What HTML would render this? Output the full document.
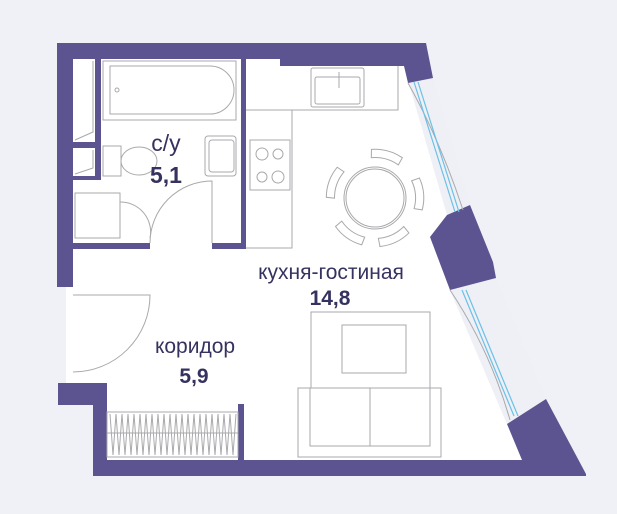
<!DOCTYPE html>
<html><head><meta charset="utf-8"><style>
html,body{margin:0;padding:0;background:#eff1f6;}
svg{display:block}
text{font-family:"Liberation Sans",sans-serif;fill:#35325f}
</style></head><body>
<svg width="617" height="514" viewBox="0 0 617 514" xmlns="http://www.w3.org/2000/svg">
<rect width="617" height="514" fill="#eff1f6"/>
<!-- floor -->
<polygon points="73,59 280,59 280,66 404,66 447,215 430,237 450,290 507,424 522,460 107,460 107,405 73,405 73,287 57,287 57,153 73,153" fill="#ffffff"/>
<polygon points="66,287 73,287 73,383 66,383" fill="#ffffff"/>
<!-- window recesses -->
<polygon points="404,66 433,78 470,205 447,215" fill="#eef0f5"/>
<polygon points="450,290 496,278 546,399 507,424" fill="#eef0f5"/>
<g fill="#5b5490">
<polygon points="58,43 426,43 433,78 408,83 404,66 280,66 280,59 73,59 73,153 57,153 57,287 73,287 73,59 58,59"/>
<rect x="57" y="43" width="16" height="244"/>
<polygon points="470,205 447,215 430,237 450,290 496,278 493,262"/>
<polygon points="546,399 586,474 586,476 93,476 93,405 58,405 58,383 107,383 107,460 522,460 507,424"/>
<rect x="241" y="59" width="5" height="190"/>
<rect x="95" y="59" width="6" height="119"/>
<rect x="73" y="142" width="22" height="6"/>
<rect x="73" y="176" width="28" height="4"/>
<rect x="73" y="243" width="77" height="6"/>
<rect x="212" y="243" width="34" height="6"/>
<rect x="238" y="404" width="6" height="56"/>
</g>
<g fill="none" stroke="#a9a9ad" stroke-width="1">
<polyline points="75,140 93,132 93,61"/>
<polyline points="75,174 93,168 93,150"/>
<rect x="103" y="61" width="133" height="59"/>
<path d="M110,66 H210 A22,22 0 0 1 210,114 H110 Z"/>
<circle cx="117" cy="90" r="2"/>
<rect x="103" y="146" width="18" height="30"/>
<ellipse cx="139" cy="161" rx="18" ry="14"/>
<rect x="205" y="136" width="31" height="40" rx="3"/>
<rect x="209" y="140" width="25" height="32" rx="3"/>
<rect x="75" y="193" width="45" height="45"/>
<path d="M120,202 A30,30 0 0 1 150,238"/>
<path d="M150,243 A62,62 0 0 1 212,181 V243"/>
<path d="M73,295 H150 A77,77 0 0 1 73,372"/>
<polyline points="246,110 398,110 398,66"/>
<polyline points="292,110 292,248 246,248"/>
<rect x="311" y="68" width="53" height="39" rx="2"/>
<rect x="315" y="77" width="45" height="27" rx="2"/>
<line x1="339" y1="72" x2="339" y2="88"/>
<rect x="250" y="140" width="40" height="50"/>
<circle cx="262" cy="154" r="6"/><circle cx="278" cy="154" r="5"/>
<circle cx="262" cy="177" r="5"/><circle cx="278" cy="177" r="6"/>
<circle cx="375" cy="198" r="31"/>
<circle cx="375" cy="198" r="29"/>
<g transform="translate(375,198)">
<path d="M-14,-38 A40,40 0 0 1 14,-38 L16,-46 A48,48 0 0 0 -16,-46 Z" transform="rotate(15)"/>
<path d="M-14,-38 A40,40 0 0 1 14,-38 L16,-46 A48,48 0 0 0 -16,-46 Z" transform="rotate(85)"/>
<path d="M-14,-38 A40,40 0 0 1 14,-38 L16,-46 A48,48 0 0 0 -16,-46 Z" transform="rotate(155)"/>
<path d="M-14,-38 A40,40 0 0 1 14,-38 L16,-46 A48,48 0 0 0 -16,-46 Z" transform="rotate(215)"/>
<path d="M-14,-38 A40,40 0 0 1 14,-38 L16,-46 A48,48 0 0 0 -16,-46 Z" transform="rotate(290)"/>
</g>
<rect x="311" y="312" width="119" height="76"/>
<rect x="342" y="325" width="64" height="48"/>
<rect x="298" y="388" width="143" height="69"/>
<polyline points="310,388 310,446 430,446 430,388"/>
<line x1="370" y1="388" x2="370" y2="446"/>
<rect x="107" y="412" width="131" height="45"/>
<line x1="107" y1="433" x2="238" y2="433"/>
<polyline points="110,414 113,455 116,414 119,455 122,414 125,455 128,414 131,455 134,414 137,455 140,414 143,455 146,414 149,455 152,414 155,455 158,414 161,455 164,414 167,455 170,414 173,455 176,414 179,455 182,414 185,455 188,414 191,455 194,414 197,455 200,414 203,455 206,414 209,455 212,414 215,455 218,414 221,455 224,414 227,455 230,414 233,455 236,414"/>
<path d="M408,83 Q440,140 463,210"/>
<path d="M450,290 Q490,350 510,420"/>
</g>
<g fill="none" stroke="#6cc0e6" stroke-width="1.2">
<line x1="414" y1="82" x2="455" y2="212"/>
<line x1="418" y1="82" x2="459" y2="212"/>
<line x1="462" y1="290" x2="514" y2="416"/>
<line x1="466" y1="290" x2="518" y2="416"/>
</g>
<text x="166" y="151" font-size="23" text-anchor="middle">с/у</text>
<text x="166" y="183" font-size="23" font-weight="bold" text-anchor="middle">5,1</text>
<text x="331" y="279" font-size="21" text-anchor="middle">кухня-гостиная</text>
<text x="330" y="305" font-size="21" font-weight="bold" text-anchor="middle">14,8</text>
<text x="195" y="353" font-size="21" text-anchor="middle">коридор</text>
<text x="194" y="383" font-size="21" font-weight="bold" text-anchor="middle">5,9</text>
</svg>
</body></html>
